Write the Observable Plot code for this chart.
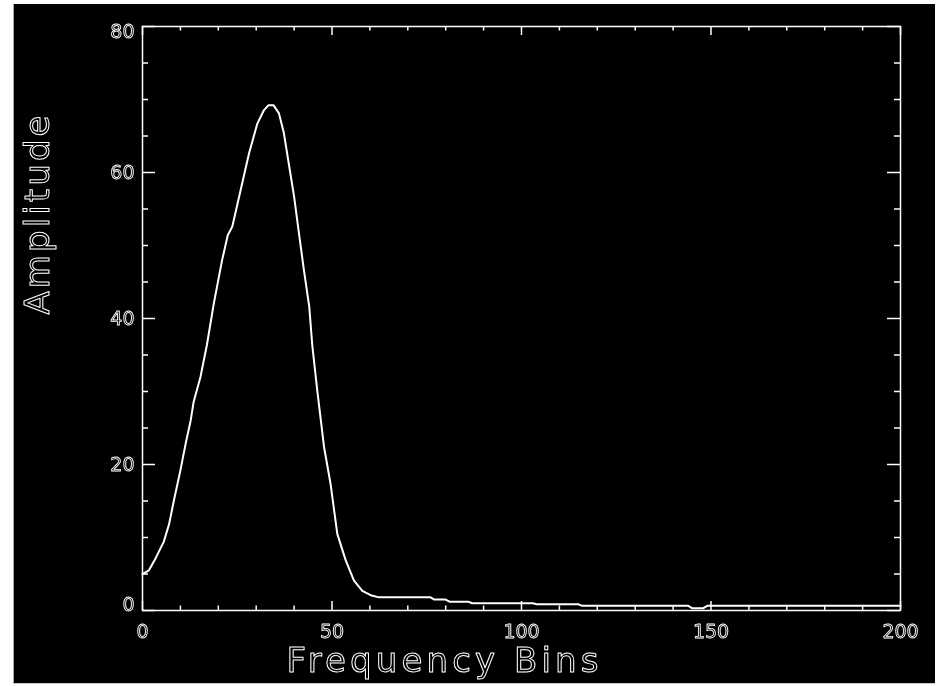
<!DOCTYPE html>
<html><head><meta charset="utf-8">
<script src="https://cdn.jsdelivr.net/npm/d3@7"></script>
<script src="https://cdn.jsdelivr.net/npm/@observablehq/plot@0.6"></script>
<style>
html,body{margin:0;padding:0;background:#fff;}
#wrap{position:absolute;left:14px;top:4px;width:921px;height:679px;background:#000;will-change:transform;}
#wrap svg{will-change:transform;}
#lline{position:absolute;left:13px;top:4px;width:1px;height:680px;background:#a8a8a8;}
#bline{position:absolute;left:13px;top:683px;width:922px;height:1px;background:#c8c8c8;}
</style></head><body>
<div id="lline"></div><div id="bline"></div><div id="wrap"></div>
<script>
const bins = [0, 1.7, 3.4, 5.6, 7, 8.3, 10, 11.4, 12.7, 13.5, 15.3, 17, 18.8, 21, 22.5, 23.7, 25.9, 28.1, 30.3, 32, 33.2, 34.6, 36, 37.3, 38.6, 40, 41.3, 42.6, 44, 44.8, 46.1, 47.9, 49.6, 51.4, 53.6, 55.8, 58, 60.2, 62.4, 76, 77, 80, 81, 86, 87, 103, 104, 115, 116, 144, 145, 148, 149, 200];
const amplitude = [5.0, 5.5, 7.1, 9.4, 11.8, 15.1, 19.2, 22.9, 26.0, 28.6, 32.0, 36.4, 42.0, 48.0, 51.4, 52.6, 57.6, 62.6, 66.7, 68.5, 69.2, 69.2, 68.1, 65.4, 61.2, 56.7, 51.6, 46.6, 41.6, 36.3, 30.2, 22.4, 17.4, 10.5, 6.9, 4.1, 2.7, 2.1, 1.8, 1.8, 1.5, 1.5, 1.2, 1.2, 1.0, 1.0, 0.85, 0.85, 0.64, 0.64, 0.32, 0.32, 0.64, 0.64];
const xMajor = [0, 50, 100, 150, 200];
const xMinor = [10, 20, 30, 40, 60, 70, 80, 90, 110, 120, 130, 140, 160, 170, 180, 190];
const yMajor = [0, 20, 40, 60, 80];
const yMinor = [5, 10, 15, 25, 30, 35, 45, 50, 55, 65, 70, 75];
const xTitle = "Frequency Bins";
const yTitle = "Amplitude";

const data = bins.map((b, i) => ({bin: b, amp: amplitude[i]}));

const W = 921, H = 679, mL = 128, mT = 22, mR = 35, mB = 73;
const pw = W - mL - mR, ph = H - mT - mB;
const tickStyle = {stroke: "white", strokeWidth: 1.5};
const lblStyle = {fill: "none", stroke: "white", strokeWidth: 0.9, fontSize: 19, lineAnchor: "middle"};
const ttlStyle = {fill: "none", stroke: "white", strokeWidth: 1, fontSize: 34, lineAnchor: "middle"};

const chart = Plot.plot({
  width: W, height: H,
  marginLeft: mL, marginTop: mT, marginRight: mR, marginBottom: mB,
  style: {background: "black", color: "white", fontFamily: "DejaVu Sans"},
  x: {domain: [0, 200], axis: null},
  y: {domain: [0, 80], axis: null},
  marks: [
    Plot.tickX(xMajor, {x: d => d, ...tickStyle, insetTop: ph - 9}),
    Plot.tickX(xMinor, {x: d => d, ...tickStyle, insetTop: ph - 4.5}),
    Plot.tickX(xMajor, {x: d => d, ...tickStyle, insetBottom: ph - 9}),
    Plot.tickX(xMinor, {x: d => d, ...tickStyle, insetBottom: ph - 4.5}),
    Plot.tickY(yMajor, {y: d => d, ...tickStyle, insetRight: pw - 13}),
    Plot.tickY(yMinor, {y: d => d, ...tickStyle, insetRight: pw - 6}),
    Plot.tickY(yMajor, {y: d => d, ...tickStyle, insetLeft: pw - 13}),
    Plot.tickY(yMinor, {y: d => d, ...tickStyle, insetLeft: pw - 6}),
    Plot.frame({stroke: "white", strokeWidth: 1.5}),
    Plot.line(data, {x: "bin", y: "amp", stroke: "white", strokeWidth: 2}),
    Plot.text(xMajor, {x: d => d, text: d => String(d), frameAnchor: "bottom", dy: 21, ...lblStyle}),
    Plot.text(yMajor.filter(d => d > 0 && d < 80), {y: d => d, text: d => String(d), frameAnchor: "left", dx: -8, textAnchor: "end", ...lblStyle}),
    Plot.text(yMajor.filter(d => d === 80), {y: d => d, text: d => String(d), frameAnchor: "left", dx: -8, dy: 5.5, textAnchor: "end", ...lblStyle}),
    Plot.text(yMajor.filter(d => d === 0), {y: d => d, text: d => String(d), frameAnchor: "left", dx: -8, dy: -6, textAnchor: "end", ...lblStyle}),
    Plot.text([xTitle], {text: d => d, frameAnchor: "bottom", dx: -79, dy: 51, ...ttlStyle}),
    Plot.text([yTitle], {text: d => d, frameAnchor: "left", rotate: -90, dx: -104.5, dy: -4, ...ttlStyle})
  ]
});

chart.querySelectorAll("text").forEach(t => {
  if (t.textContent === xTitle) { t.setAttribute("textLength", 312); t.setAttribute("lengthAdjust", "spacing"); }
  if (t.textContent === yTitle) { t.setAttribute("textLength", 199); t.setAttribute("lengthAdjust", "spacing"); }
});
document.getElementById("wrap").appendChild(chart);
</script>
</body></html>
